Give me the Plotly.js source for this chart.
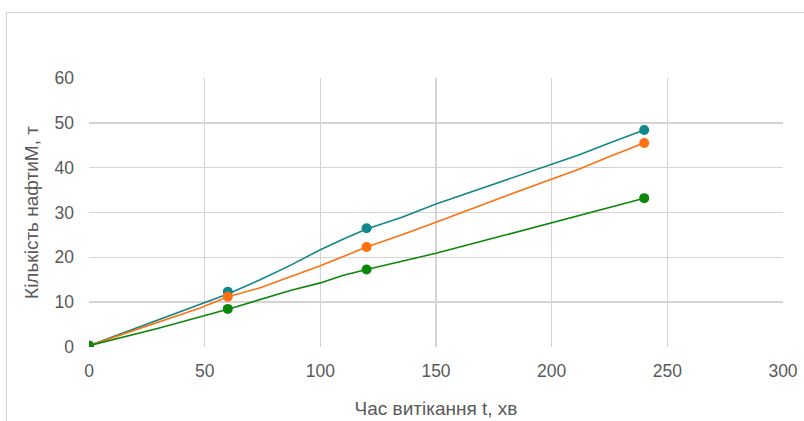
<!DOCTYPE html>
<html>
<head>
<meta charset="utf-8">
<script src="https://cdn.plot.ly/plotly-3.0.1.min.js"></script>
<style>
  html, body { margin: 0; padding: 0; background: #fff; }
  #frame { position: absolute; left: 6px; top: 12px; width: 900px; height: 500px; border: 1.5px solid #d4d4d4; }
  #chart { position: absolute; left: 0; top: 0; width: 804px; height: 421px; }
</style>
</head>
<body>
<div id="frame"></div>
<div id="chart"></div>
<script>
// Measured points (minutes, tonnes)
const timePoints = [0, 60, 120, 240];
const tealPoints = [0.3, 12.3, 26.5, 48.4];
const orangePoints = [0.3, 11.2, 22.3, 45.5];
const greenPoints = [0.3, 8.5, 17.3, 33.2];

// Calculated curves
const tealLineX = [0, 48, 60, 74, 87, 100, 110, 120, 135, 150, 165, 180, 200, 212, 225, 240];
const tealLineY = [0.3, 9.4, 11.8, 15.0, 18.2, 21.7, 24.1, 26.3, 28.9, 31.9, 34.6, 37.2, 40.8, 42.9, 45.5, 48.4];
const orangeLineX = [0, 48, 60, 74, 100, 120, 135, 150, 175, 200, 212, 225, 240];
const orangeLineY = [0.3, 8.7, 11.2, 13.2, 18.1, 22.3, 25.0, 27.8, 32.7, 37.4, 39.7, 42.5, 45.5];
const greenLineX = [0, 30, 60, 74, 87, 100, 110, 120, 135, 150, 175, 200, 212, 225, 240];
const greenLineY = [0.3, 4.2, 8.4, 10.5, 12.6, 14.3, 16.0, 17.3, 19.1, 20.9, 24.3, 27.7, 29.3, 31.1, 33.2];

const teal = '#12878a';
const orange = '#ff700f';
const green = '#0b870b';

const traces = [
  {x: tealLineX, y: tealLineY, mode: 'lines', line: {color: teal, width: 1.6}, hoverinfo: 'skip'},
  {x: orangeLineX, y: orangeLineY, mode: 'lines', line: {color: orange, width: 1.6}, hoverinfo: 'skip'},
  {x: greenLineX, y: greenLineY, mode: 'lines', line: {color: green, width: 1.6}, hoverinfo: 'skip'},
  {x: timePoints, y: tealPoints, mode: 'markers', marker: {color: teal, size: 10}},
  {x: timePoints, y: orangePoints, mode: 'markers', marker: {color: orange, size: 10}},
  {x: timePoints, y: greenPoints, mode: 'markers', marker: {color: green, size: 10}}
];

const fam = 'Liberation Sans, Arial, sans-serif';
const axisFont = {family: fam, size: 17.5, color: '#595959'};

const layout = {
  width: 804, height: 421,
  margin: {l: 89, r: 21, t: 78, b: 74},
  paper_bgcolor: 'rgba(0,0,0,0)',
  plot_bgcolor: 'rgba(0,0,0,0)',
  showlegend: false,
  xaxis: {
    range: [0, 300], tick0: 0, dtick: 50,
    showgrid: true, gridcolor: '#d4d4d4', gridwidth: 1.5,
    zeroline: false, showline: false,
    tickfont: axisFont, ticklabelstandoff: 11,
    title: {text: 'Час витікання t, хв', font: {family: fam, size: 19, color: '#595959'}, standoff: 22}
  },
  yaxis: {
    range: [0, 60], tick0: 0, dtick: 10,
    showgrid: true, gridcolor: '#d4d4d4', gridwidth: 1.5,
    zeroline: false, showline: false,
    tickfont: axisFont, ticklabelstandoff: 14,
    title: {text: 'Кількість нафтиМ, т', font: {family: fam, size: 19, color: '#595959'}, standoff: 10}
  }
};

Plotly.newPlot('chart', traces, layout, {displayModeBar: false, staticPlot: true});
</script>
</body>
</html>
